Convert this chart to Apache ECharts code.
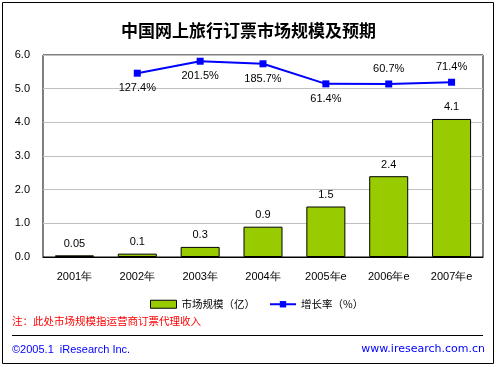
<!DOCTYPE html>
<html><head><meta charset="utf-8">
<script src="https://cdn.jsdelivr.net/npm/echarts@6/dist/echarts.min.js"></script>
<style>html,body{margin:0;padding:0;background:#fff;}#c{width:497px;height:367px;}</style>
</head><body><div id="c"></div>
<script>
var categories = ['2001年','2002年','2003年','2004年','2005年e','2006年e','2007年e'];
var marketSize = [0.05, 0.1, 0.3, 0.9, 1.5, 2.4, 4.1];
var growthRate = [null, 127.4, 201.5, 185.7, 61.4, 60.7, 71.4];
var growthLabelPos = [null, 'bottom', 'bottom', 'bottom', 'bottom', 'top', 'top'];
var yTicks = ['0.0','1.0','2.0','3.0','4.0','5.0','6.0'];

var font = '"Liberation Sans", Arial, sans-serif';
var cjk = '"Noto Sans CJK SC", "Liberation Sans", sans-serif';
var chart = echarts.init(document.getElementById('c'), null, {renderer:'canvas'});
chart.setOption({
  backgroundColor: '#ffffff',
  animation: false,
  title: {
    text: '中国网上旅行订票市场规模及预期',
    left: 'center', top: 17,
    textStyle: {fontFamily: cjk, fontSize: 17, fontWeight: 'bold', color: '#000'}
  },
  grid: {left: 43, right: 14, top: 55, bottom: 110, show: true, borderColor: '#000', borderWidth: 1, backgroundColor: '#fff'},
  legend: {
    left: 145, top: 294, itemGap: 14, itemWidth: 26, itemHeight: 8,
    textStyle: {fontFamily: cjk, fontSize: 10.5, color: '#000'},
    data: [{name: '市场规模（亿）', icon: 'rect', itemStyle: {borderColor: '#000', borderWidth: 1}}, {name: '增长率（%）'}]
  },
  xAxis: {
    type: 'category', data: categories,
    axisLine: {lineStyle: {color: '#000', width: 1}},
    axisTick: {show: false},
    axisLabel: {fontFamily: font, fontSize: 11, color: '#000', margin: 14}
  },
  yAxis: [{
    type: 'value', min: 0, max: 6, interval: 1,
    axisLine: {show: false}, axisTick: {show: false},
    axisLabel: {fontFamily: font, fontSize: 11, color: '#000', margin: 13,
      formatter: function(v){ return yTicks[Math.round(v)]; }},
    splitLine: {lineStyle: {color: '#c0c0c0', width: 1}}
  }, {
    type: 'value', min: -1010, max: 240, show: false, splitLine: {show: false}
  }],
  series: [{
    name: '市场规模（亿）', type: 'bar', data: marketSize, barWidth: 39,
    itemStyle: {color: '#99cc00', borderColor: '#000', borderWidth: 1},
    label: {show: true, position: 'top', distance: 6, fontFamily: font, fontSize: 11, color: '#000',
      formatter: function(p){ return String(p.value); }}
  }, {
    name: '增长率（%）', type: 'line', yAxisIndex: 1,
    data: growthRate.map(function(v, i){
      return v === null ? null : {value: v, label: {position: growthLabelPos[i]}};
    }),
    lineStyle: {color: '#0000ff', width: 2},
    itemStyle: {color: '#0000ff'},
    symbol: 'rect', symbolSize: 7,
    label: {show: true, distance: 6, fontFamily: font, fontSize: 11, color: '#000',
      formatter: function(p){ return p.value.toFixed(1) + '%'; }}
  }],
  graphic: [
    {type: 'rect', shape: {x: 2.5, y: 2.5, width: 491, height: 361}, style: {fill: 'none', stroke: '#000', lineWidth: 1}},
    {type: 'text', left: 12, top: 316, style: {text: '注：此处市场规模指运营商订票代理收入', fill: '#ff0000', font: '10.5px ' + cjk}},
    {type: 'line', shape: {x1: 12, y1: 335.5, x2: 483, y2: 335.5}, style: {stroke: '#000', lineWidth: 1}},
    {type: 'text', left: 12, top: 344, style: {text: '©2005.1  iResearch Inc.', fill: '#0000ff', font: '11px ' + font}},
    {type: 'text', right: 12, top: 344, style: {text: 'www.iresearch.com.cn', fill: '#0000ff', font: '11px "DejaVu Sans", sans-serif'}}
  ]
});
</script></body></html>
